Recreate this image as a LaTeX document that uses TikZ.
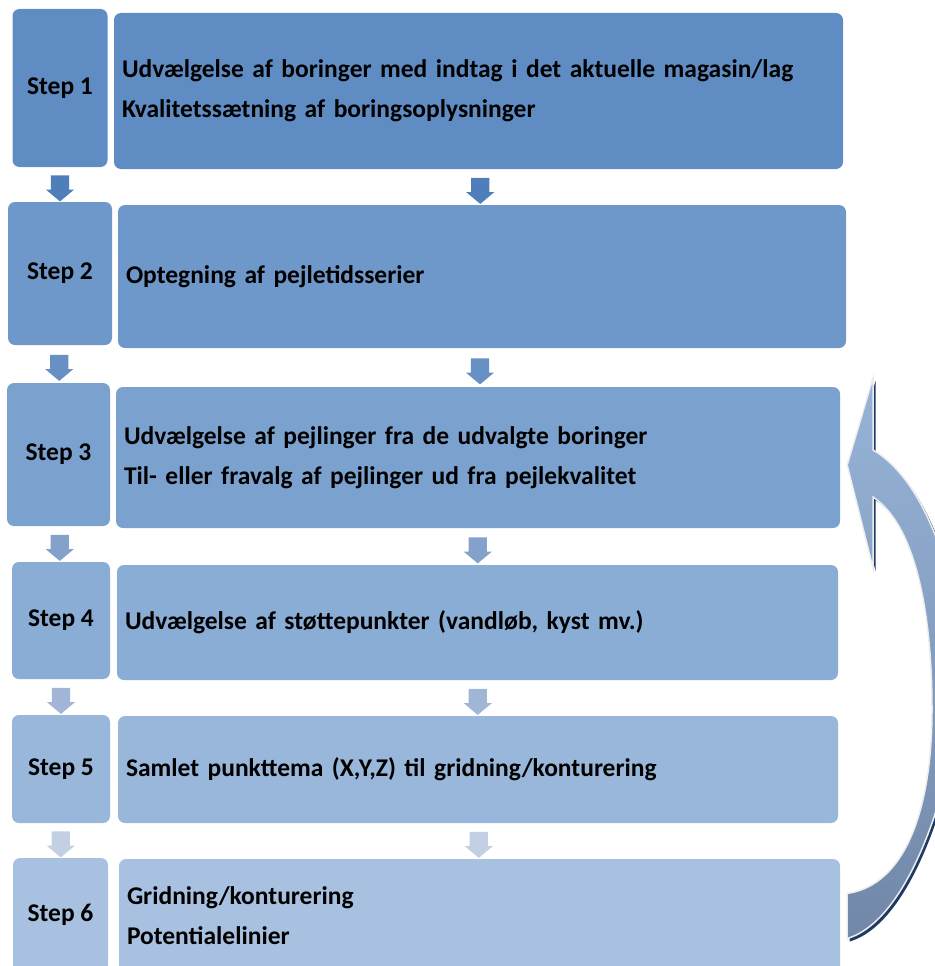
\documentclass[tikz,border=0pt]{standalone}
\usepackage{fontspec}
\setmainfont{Carlito}
\usetikzlibrary{shapes.arrows,calc}

\definecolor{rowa}{HTML}{5F8DC3}
\definecolor{rowb}{HTML}{6E98C9}
\definecolor{rowc}{HTML}{7BA2CF}
\definecolor{rowd}{HTML}{89ADD4}
\definecolor{rowe}{HTML}{98B7DA}
\definecolor{rowf}{HTML}{A8C1E0}
\definecolor{arra}{HTML}{4F7FBB}
\definecolor{arrb}{HTML}{6990C5}
\definecolor{arrc}{HTML}{84A1CC}
\definecolor{arrd}{HTML}{A1B5D6}
\definecolor{arre}{HTML}{C3D0E4}
\definecolor{backtop}{HTML}{96B4D8}
\definecolor{backmid}{HTML}{8EA9CF}
\definecolor{backbot}{HTML}{7287A8}
\definecolor{navy}{HTML}{1F3B64}

\tikzset{
  stepbox/.style={rounded corners=7pt, inner sep=0pt,
    font=\fontsize{25.5}{40}\selectfont\bfseries},
  textbox/.style={rounded corners=7pt, inner xsep=8pt, inner ysep=0pt, align=left,
    font=\fontsize{25.5}{40}\selectfont\bfseries},
  blockarrow/.style={single arrow, rotate=-90, inner sep=9pt, minimum height=24pt,
    single arrow head extend=5pt, single arrow tip angle=100},
}

\begin{document}
\begin{tikzpicture}[x=1pt,y=-1pt]
    \useasboundingbox (0,0) rectangle (934,966);

    % steps
    \node[stepbox, fill=rowa, minimum width=95pt, minimum height=158pt] (s1) at (60,88) {Step 1};
    \node[textbox, fill=rowa, text width=713pt, minimum height=156pt] (t1) at (478.5,91)
        {Udvælgelse af boringer med indtag i det aktuelle magasin/lag\\Kvalitetssætning af boringsoplysninger};

    \node[stepbox, fill=rowb, minimum width=104pt, minimum height=143pt] (s2) at (60,273.5) {Step 2};
    \node[textbox, fill=rowb, text width=712pt, minimum height=143pt] (t2) at (482,276.5)
        {Optegning af pejletidsserier};

    \node[stepbox, fill=rowc, minimum width=103pt, minimum height=143pt] (s3) at (58.5,454.5) {Step 3};
    \node[textbox, fill=rowc, text width=708pt, minimum height=141pt] (t3) at (478,457.5)
        {Udvælgelse af pejlinger fra de udvalgte boringer\\Til- eller fravalg af pejlinger ud fra pejlekvalitet};

    \node[stepbox, fill=rowd, minimum width=98pt, minimum height=117pt] (s4) at (61,620.5) {Step 4};
    \node[textbox, fill=rowd, text width=705pt, minimum height=115pt] (t4) at (477.5,622.5)
        {Udvælgelse af støttepunkter (vandløb, kyst mv.)};

    \node[stepbox, fill=rowe, minimum width=98pt, minimum height=108pt] (s5) at (61,769) {Step 5};
    \node[textbox, fill=rowe, text width=704pt, minimum height=107pt] (t5) at (478,769.5)
        {Samlet punkttema (X,Y,Z) til gridning/konturering};

    \node[stepbox, fill=rowf, minimum width=95pt, minimum height=114pt] (s6) at (60.5,915) {Step 6};
    \node[textbox, fill=rowf, text width=705pt, minimum height=114pt] (t6) at (479.5,916)
        {Gridning/konturering\\Potentialelinier};

    % small arrows between the rows
    \node[blockarrow, fill=arra] (sa1) at ($(s1.south)!0.5!(s2.north)$) {};
    \node[blockarrow, fill=arra] (ta1) at ($(t1.south)!0.5!(t2.north)$) {};
    \node[blockarrow, fill=arrb] (sa2) at ($(s2.south)!0.5!(s3.north)$) {};
    \node[blockarrow, fill=arrb] (ta2) at ($(t2.south)!0.5!(t3.north)$) {};
    \node[blockarrow, fill=arrc] (sa3) at ($(s3.south)!0.5!(s4.north)$) {};
    \node[blockarrow, fill=arrc] (ta3) at ($(t3.south)!0.5!(t4.north)$) {};
    \node[blockarrow, fill=arrd] (sa4) at ($(s4.south)!0.5!(s5.north)$) {};
    \node[blockarrow, fill=arrd] (ta4) at ($(t4.south)!0.5!(t5.north)$) {};
    \node[blockarrow, fill=arre] (sa5) at ($(s5.south)!0.5!(s6.north)$) {};
    \node[blockarrow, fill=arre] (ta5) at ($(t5.south)!0.5!(t6.north)$) {};

    % back arrow from step 6 to step 3
    \coordinate (tip) at ($(t3.east)+(7,7.5)$);
    \coordinate (tail) at ($(t6.east)+(7,0)$);
    \path[draw=white!93!black, line width=1.5pt,
          top color=backtop, middle color=backmid, bottom color=backbot,
          preaction={fill=navy, transform canvas={shift={(2.5,3)}}}]
        (tip) -- (873,378) -- (873,450)
        .. controls (925,480) and (962,580) .. (962,690)
        .. controls (952,785) and (910,920) .. ($(tail)+(0,22.5)$)
        -- ($(tail)+(0,-22.5)$)
        .. controls (905,885) and (932,810) .. (932,710)
        .. controls (932,610) and (915,525) .. (873,497)
        -- (873,568) -- cycle;
\end{tikzpicture}
\end{document}
